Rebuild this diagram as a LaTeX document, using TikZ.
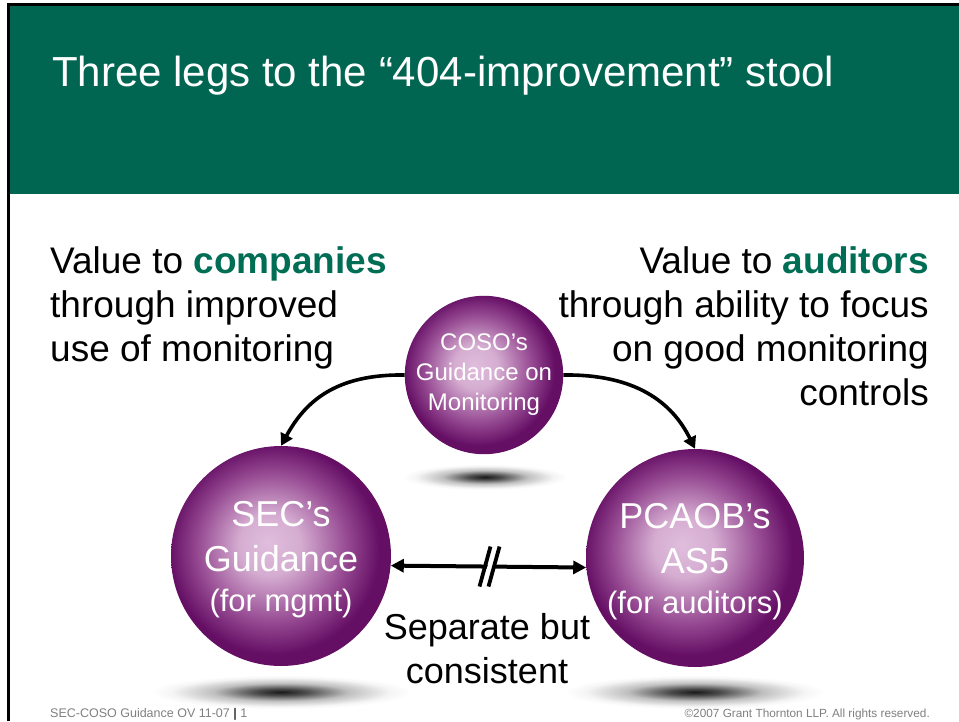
\documentclass[tikz,border=0pt]{standalone}
\usepackage{fontspec}
\setmainfont{Liberation Sans}
\usetikzlibrary{arrows.meta,calc}

\definecolor{hdrgreen}{RGB}{0,102,81}
\definecolor{keygreen}{RGB}{0,110,84}
\definecolor{balllight}{RGB}{224,190,220}
\definecolor{ballmid}{RGB}{150,74,146}
\definecolor{balldark}{RGB}{100,14,100}
\definecolor{footgray}{RGB}{128,128,128}

% purple sphere with a soft highlight slightly up and to the left
\pgfdeclareradialshading{ballfill}{\pgfpoint{-3bp}{3bp}}{%
  color(0bp)=(balllight); color(7bp)=(balllight!85!ballmid);
  color(17bp)=(ballmid); color(24bp)=(balldark); color(50bp)=(balldark)}
% blurred floor shadow
\pgfdeclareradialshading{floorshadow}{\pgfpoint{0bp}{0bp}}{%
  color(0bp)=(black!90); color(5bp)=(black!70); color(13bp)=(black!25);
  color(21bp)=(black!4); color(25bp)=(white); color(50bp)=(white)}

\begin{document}
\begin{tikzpicture}[x=1pt,y=-1pt,
  ball/.style={circle, inner sep=0pt, shading=ballfill, text=white, align=center},
  bigball/.style={ball, text depth=0pt, font=\fontsize{36}{45}\selectfont},
  bodytext/.style={inner sep=0pt, font=\fontsize{37}{44}\selectfont},
  foottext/.style={inner sep=0pt, text=footgray},
  curvearrow/.style={line width=3.6pt, -{Triangle[length=12pt,width=13pt]}},
  linkarrow/.style={line width=4pt, {Triangle[length=13pt,width=13pt]}-{Triangle[length=13pt,width=13pt]}},
  breakmark/.style={line width=3.8pt}]

\useasboundingbox (0,0) rectangle (959,721);

% slide frame and title band
\fill[white] (0,0) rectangle (959,721);
\fill[black] (7,3) rectangle (959,721);
\fill[white] (10,6) rectangle (959,721);
\fill[hdrgreen] (10,6) rectangle (959,194);
\node[anchor=base west, inner sep=0pt, text=white, font=\fontsize{42}{48}\selectfont]
  (title) at (52,86) {Three legs to the “404-improvement” stool};

% value statements (anchored on the baseline of their last line)
\node[bodytext, anchor=base west, align=left] (lefttxt) at (50,361)
  {Value to \textbf{\color{keygreen}companies}\\through improved\\use of monitoring};
\node[bodytext, anchor=base east, align=right] (righttxt) at (929,405)
  {Value to \textbf{\color{keygreen}auditors}\\through ability to focus\\on good monitoring\\controls};

% floor shadows
\shade[shading=floorshadow] (485,477) ellipse [x radius=82, y radius=13];
\shade[shading=floorshadow] (281,692) ellipse [x radius=130, y radius=17];
\shade[shading=floorshadow] (695,692) ellipse [x radius=130, y radius=17];

% the three spheres
\node[ball, minimum size=158pt, font=\fontsize{24}{30}\selectfont] (coso) at (484,375)
  {COSO’s\\Guidance on\\Monitoring};
\node[bigball, minimum size=220pt] (sec) at (281,556)
  {SEC’s\\Guidance\\[-5pt]{\fontsize{31}{36}\selectfont (for mgmt)}};
\node[bigball, minimum size=218pt] (pcaob) at (695,558)
  {PCAOB’s\\AS5\\[-5pt]{\fontsize{31}{36}\selectfont (for auditors)}};

\node[bodytext, align=center, font=\fontsize{36}{44}\selectfont, anchor=base] (sepnote) at (487,683)
  {Separate but\\consistent};

% connectors
\draw[curvearrow] (coso.west) .. controls (335,374) and (305,402) .. (sec.north);
\draw[curvearrow] (coso.east) .. controls (635,374) and (672,402) .. (pcaob.north);
\draw[linkarrow] (sec.-5) -- (pcaob.185);

% break mark on the link
\coordinate (brk) at ($(sec.-5)!0.5!(pcaob.185)$);
\begin{scope}[shift={(brk)}]
  \draw[white, line width=5pt] (-4,20) -- (7,-20);
  \draw[breakmark] (-9,20) -- (2,-20);
  \draw[breakmark] (0,20) -- (11,-20);
\end{scope}

% footer
\node[foottext, anchor=base west, font=\fontsize{12.5}{14}\selectfont] (footleft) at (50,717)
  {SEC-COSO Guidance OV 11-07 {\color{black!75}\bfseries |} 1};
\node[foottext, anchor=base east, font=\fontsize{11.8}{14}\selectfont] (footright) at (930,717)
  {©2007 Grant Thornton LLP. All rights reserved.};
\end{tikzpicture}
\end{document}
